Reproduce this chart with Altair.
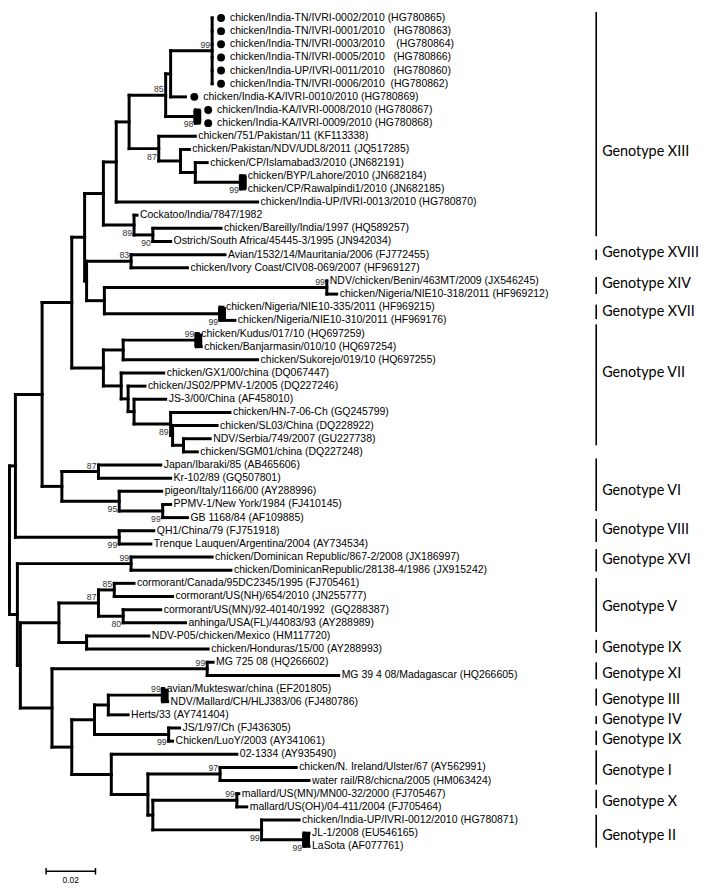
import altair as alt
import pandas as pd

# ---------------- data ----------------
leaf_names = [
    "chicken/India-TN/IVRI-0002/2010 (HG780865)",
    "chicken/India-TN/IVRI-0001/2010\u00a0\u00a0 (HG780863)",
    "chicken/India-TN/IVRI-0003/2010\u00a0\u00a0\u00a0 (HG780864)",
    "chicken/India-TN/IVRI-0005/2010\u00a0\u00a0 (HG780866)",
    "chicken/India-UP/IVRI-0011/2010\u00a0\u00a0 (HG780860)",
    "chicken/India-TN/IVRI-0006/2010\u00a0 (HG780862)",
    "chicken/India-KA/IVRI-0010/2010 (HG780869)",
    "chicken/India-KA/IVRI-0008/2010 (HG780867)",
    "chicken/India-KA/IVRI-0009/2010 (HG780868)",
    "chicken/751/Pakistan/11 (KF113338)",
    "chicken/Pakistan/NDV/UDL8/2011 (JQ517285)",
    "chicken/CP/Islamabad3/2010 (JN682191)",
    "chicken/BYP/Lahore/2010 (JN682184)",
    "chicken/CP/Rawalpindi1/2010 (JN682185)",
    "chicken/India-UP/IVRI-0013/2010 (HG780870)",
    "Cockatoo/India/7847/1982",
    "chicken/Bareilly/India/1997 (HQ589257)",
    "Ostrich/South Africa/45445-3/1995 (JN942034)",
    "Avian/1532/14/Mauritania/2006 (FJ772455)",
    "chicken/Ivory Coast/CIV08-069/2007 (HF969127)",
    "NDV/chicken/Benin/463MT/2009 (JX546245)",
    "chicken/Nigeria/NIE10-318/2011 (HF969212)",
    "chicken/Nigeria/NIE10-335/2011 (HF969215)",
    "chicken/Nigeria/NIE10-310/2011 (HF969176)",
    "chicken/Kudus/017/10 (HQ697259)",
    "chicken/Banjarmasin/010/10 (HQ697254)",
    "chicken/Sukorejo/019/10 (HQ697255)",
    "chicken/GX1/00/china (DQ067447)",
    "chicken/JS02/PPMV-1/2005 (DQ227246)",
    "JS-3/00/China (AF458010)",
    "chicken/HN-7-06-Ch (GQ245799)",
    "chicken/SL03/China (DQ228922)",
    "NDV/Serbia/749/2007 (GU227738)",
    "chicken/SGM01/china (DQ227248)",
    "Japan/Ibaraki/85 (AB465606)",
    "Kr-102/89 (GQ507801)",
    "pigeon/Italy/1166/00 (AY288996)",
    "PPMV-1/New York/1984 (FJ410145)",
    "GB 1168/84 (AF109885)",
    "QH1/China/79 (FJ751918)",
    "Trenque Lauquen/Argentina/2004 (AY734534)",
    "chicken/Dominican Republic/867-2/2008 (JX186997)",
    "chicken/DominicanRepublic/28138-4/1986 (JX915242)",
    "cormorant/Canada/95DC2345/1995 (FJ705461)",
    "cormorant/US(NH)/654/2010 (JN255777)",
    "cormorant/US(MN)/92-40140/1992\u00a0 (GQ288387)",
    "anhinga/USA(FL)/44083/93 (AY288989)",
    "NDV-P05/chicken/Mexico (HM117720)",
    "chicken/Honduras/15/00 (AY288993)",
    "MG 725 08 (HQ266602)",
    "MG 39 4 08/Madagascar (HQ266605)",
    "avian/Mukteswar/china (EF201805)",
    "NDV/Mallard/CH/HLJ383/06 (FJ480786)",
    "Herts/33 (AY741404)",
    "JS/1/97/Ch (FJ436305)",
    "Chicken/LuoY/2003 (AY341061)",
    "02-1334 (AY935490)",
    "chicken/N. Ireland/Ulster/67 (AY562991)",
    "water rail/R8/chicna/2005 (HM063424)",
    "mallard/US(MN)/MN00-32/2000 (FJ705467)",
    "mallard/US(OH)/04-411/2004 (FJ705464)",
    "chicken/India-UP/IVRI-0012/2010 (HG780871)",
    "JL-1/2008 (EU546165)",
    "LaSota (AF077761)",
]

# distance of each tip from the root (substitutions per site)
leaf_depth = [
    0.0820, 0.0820, 0.0820, 0.0820, 0.0820, 0.0820, 0.0712, 0.0768, 0.0768,
    0.0752, 0.0728, 0.0800, 0.0952, 0.0952, 0.1004, 0.0516, 0.0856, 0.0652,
    0.0872, 0.0720, 0.1284, 0.1324, 0.0864, 0.0912, 0.0764, 0.0776, 0.1004,
    0.0624, 0.0548, 0.0632, 0.0892, 0.0840, 0.0812, 0.0760, 0.0612, 0.0652,
    0.0616, 0.0652, 0.0720, 0.0584, 0.0572, 0.0820, 0.0896, 0.0504, 0.0660,
    0.0612, 0.0712, 0.0564, 0.0804, 0.0824, 0.1332, 0.0624, 0.0640, 0.0480,
    0.0688, 0.0660, 0.0920, 0.1160, 0.1212, 0.0928, 0.0960, 0.1172, 0.1212,
    0.1212,
]

dot_leaves = [1, 2, 3, 4, 5, 6, 7, 8, 9]

# internal nodes (children listed top to bottom), post-order
node_ids = ["A", "B", "D", "C", "I", "H", "G", "F", "E", "J", "N", "M", "K",
            "O83", "Q14", "Q17", "P", "S", "L", "T", "U", "Z3", "Z2", "Z", "Y",
            "X", "W", "V", "R", "J87", "G99", "N95", "VI", "AA", "VIII", "BB",
            "XVI", "C85", "C80", "V87", "IX1", "VIX", "XI", "III", "H3", "IX2",
            "N88", "I97", "X99", "II2", "II", "N147", "HH", "GG", "EE", "DD",
            "FF", "CC", "ROOT"]
node_children = [
    ["L1", "L2", "L3", "L4", "L5", "L6"], ["A", "L7"], ["L8", "L9"], ["B", "D"],
    ["L13", "L14"], ["L12", "I"], ["L11", "H"], ["L10", "G"], ["C", "F"],
    ["E", "L15"], ["L17", "L18"], ["L16", "N"], ["J", "M"],
    ["L19", "L20"], ["L21", "L22"], ["L23", "L24"], ["Q14", "Q17"], ["O83", "P"],
    ["K", "S"], ["L25", "L26"], ["T", "L27"], ["L33", "L34"], ["L32", "Z3"],
    ["L31", "Z2"], ["L30", "Z"], ["L29", "Y"], ["L28", "X"], ["U", "W"],
    ["L", "V"], ["L35", "L36"], ["L38", "L39"], ["L37", "G99"], ["J87", "N95"],
    ["R", "VI"], ["L40", "L41"], ["AA", "VIII"], ["L42", "L43"], ["L44", "L45"],
    ["L46", "L47"], ["C85", "C80"], ["L48", "L49"], ["V87", "IX1"], ["L50", "L51"],
    ["L52", "L53"], ["III", "L54"], ["L55", "L56"], ["H3", "IX2"], ["L58", "L59"],
    ["L60", "L61"], ["L63", "L64"], ["L62", "II2"], ["X99", "II"], ["I97", "N147"],
    ["L57", "HH"], ["N88", "GG"], ["XI", "EE"], ["VIX", "DD"], ["XVI", "FF"],
    ["BB", "CC"],
]
node_depth = [
    0.0820, 0.0652, 0.0752, 0.0632, 0.0936, 0.0752, 0.0692, 0.0604, 0.0484,
    0.0432, 0.0580, 0.0504, 0.0380, 0.0492, 0.1284, 0.0852, 0.0384, 0.0312,
    0.0304, 0.0756, 0.0460, 0.0704, 0.0660, 0.0652, 0.0504, 0.0480, 0.0452,
    0.0380, 0.0252, 0.0360, 0.0620, 0.0444, 0.0212, 0.0132, 0.0444, 0.0024,
    0.0492, 0.0424, 0.0460, 0.0360, 0.0312, 0.0200, 0.0800, 0.0620, 0.0400,
    0.0644, 0.0344, 0.0852, 0.0920, 0.1192, 0.1020, 0.0580, 0.0560, 0.0412,
    0.0252, 0.0172, 0.0044, 0.0032, 0.0000,
]
# bootstrap support (0 = not shown)
node_boot = [
    99, 0, 98, 85, 99, 0, 0, 87, 0, 0, 90, 89, 0, 83, 99, 99, 0, 0, 0, 99, 0,
    0, 0, 89, 0, 0, 0, 0, 0, 87, 99, 95, 0, 0, 99, 0, 99, 85, 80, 87, 0, 0, 99,
    99, 0, 99, 0, 97, 99, 99, 99, 0, 0, 0, 0, 0, 0, 0, 0,
]
boot_below = ["D", "I", "F", "N", "M", "Q17", "Z", "G99", "N95", "VIII", "C80",
              "IX2", "II", "II2"]
collapsed_nodes = ["D", "I", "Q17", "T", "III", "II2"]

genotype_names = ["Genotype XIII", "Genotype XVIII", "Genotype XIV", "Genotype XVII",
                  "Genotype VII", "Genotype VI", "Genotype VIII", "Genotype XVI",
                  "Genotype V", "Genotype IX", "Genotype XI", "Genotype III",
                  "Genotype IV", "Genotype IX", "Genotype I", "Genotype X",
                  "Genotype II"]
# bracket extent and label position, in leaf-row units
genotype_from = [0.55, 18.6, 20.7, 22.8, 24.3, 34.5, 39.1, 41.4, 43.6, 48.3,
                 50.0, 52.0, 54.1, 55.2, 56.7, 59.7, 61.6]
genotype_to = [17.6, 19.4, 22.0, 23.9, 33.5, 38.5, 40.85, 43.1, 47.7, 49.3,
               51.3, 53.3, 54.7, 56.3, 59.3, 61.1, 64.1]
genotype_label_row = [11.17, 18.88, 21.2, 23.36, 28.0, 36.98, 39.97, 42.2, 45.8,
                      48.94, 50.9, 52.9, 54.4, 55.9, 58.3, 60.6, 63.2]

scale_bar_start = 0.0148
scale_bar_length = 0.02

# ---------------- layout computation ----------------
depth = {}
row = {}
parent = {}
for i, (name, d) in enumerate(zip(leaf_names, leaf_depth)):
    depth[f"L{i+1}"] = d
    row[f"L{i+1}"] = i + 1
for nid, ch, d in zip(node_ids, node_children, node_depth):
    depth[nid] = d
    row[nid] = (row[ch[0]] + row[ch[-1]]) / 2
    for c in ch:
        parent[c] = nid

segs = []
for key in depth:
    if key in parent:
        segs.append({"x": depth[parent[key]], "x2": depth[key], "y": row[key], "y2": row[key]})
for nid, ch in zip(node_ids, node_children):
    segs.append({"x": depth[nid], "x2": depth[nid], "y": row[ch[0]], "y2": row[ch[-1]]})
seg_df = pd.DataFrame(segs)

block_w = 0.0024
blocks = []
for nid, ch in zip(node_ids, node_children):
    if nid in collapsed_nodes:
        blocks.append({"x": depth[nid] - 0.0008, "x2": depth[nid] + block_w,
                       "y": row[ch[0]], "y2": row[ch[-1]]})
block_df = pd.DataFrame(blocks)

leaf_df = pd.DataFrame({
    "name": leaf_names,
    "x": leaf_depth,
    "y": list(range(1, len(leaf_names) + 1)),
})
leaf_df["dot"] = leaf_df["y"].isin(dot_leaves)

boot_df = pd.DataFrame([
    {"x": depth[n], "y": row[n], "t": str(b), "below": n in boot_below}
    for n, b in zip(node_ids, node_boot) if b
])

geno_df = pd.DataFrame({"name": genotype_names, "y": genotype_from, "y2": genotype_to,
                        "ym": genotype_label_row})

bar_row = 65.9
scale_df = pd.DataFrame({"x": [scale_bar_start], "x2": [scale_bar_start + scale_bar_length],
                         "y": [bar_row], "xm": [scale_bar_start + scale_bar_length / 2],
                         "lab": [f"{scale_bar_length:.2f}"]})
tick_df = pd.DataFrame({"x": [scale_bar_start, scale_bar_start + scale_bar_length],
                        "y": [bar_row - 0.25] * 2, "y2": [bar_row + 0.25] * 2})

# ---------------- chart ----------------
W, H = 701, 883
xs = alt.Scale(domain=[-0.0006, (W - 1.5) / 2500], nice=False, zero=False)
ys = alt.Scale(domain=[1 - 5 / 13.3, 1 + (H - 5) / 13.3], nice=False, zero=False, reverse=True)
X = lambda f: alt.X(f, type="quantitative", scale=xs, axis=None)
Y = lambda f: alt.Y(f, type="quantitative", scale=ys, axis=None)

font = "Liberation Sans"

branches = alt.Chart(seg_df).mark_rule(strokeWidth=3, strokeCap="square", color="black").encode(
    x=X("x"), x2="x2", y=Y("y"), y2="y2")
blocks_l = alt.Chart(block_df).mark_rect(color="black").encode(
    x=X("x"), x2="x2", y=Y("y"), y2="y2")
dots = alt.Chart(leaf_df[leaf_df["dot"]]).mark_circle(color="black", opacity=1, size=64, xOffset=9).encode(
    x=X("x"), y=Y("y"))
labels_plain = alt.Chart(leaf_df[~leaf_df["dot"]]).mark_text(
    align="left", baseline="middle", dx=3, font=font, fontSize=10.6, color="black").encode(
    x=X("x"), y=Y("y"), text="name")
labels_dot = alt.Chart(leaf_df[leaf_df["dot"]]).mark_text(
    align="left", baseline="middle", dx=18, font=font, fontSize=10.6, color="black").encode(
    x=X("x"), y=Y("y"), text="name")
boot_up = alt.Chart(boot_df[~boot_df["below"]]).mark_text(
    align="right", baseline="middle", dx=-2, dy=-6, font=font, fontSize=8.8, color="#333").encode(
    x=X("x"), y=Y("y"), text="t")
boot_dn = alt.Chart(boot_df[boot_df["below"]]).mark_text(
    align="right", baseline="middle", dx=-2, dy=8, font=font, fontSize=8.8, color="#333").encode(
    x=X("x"), y=Y("y"), text="t")
geno_rules = alt.Chart(geno_df).mark_rule(strokeWidth=1.6, color="black").encode(
    x=alt.value(595), y=Y("y"), y2="y2")
geno_text = alt.Chart(geno_df).mark_text(
    align="left", baseline="middle", font="Lato", fontSize=14.5, color="black").encode(
    x=alt.value(601), y=Y("ym"), text="name")
scale_rule = alt.Chart(scale_df).mark_rule(strokeWidth=1.5, color="black").encode(
    x=X("x"), x2="x2", y=Y("y"))
scale_ticks = alt.Chart(tick_df).mark_rule(strokeWidth=1.5, color="black").encode(
    x=X("x"), y=Y("y"), y2="y2")
scale_lab = alt.Chart(scale_df).mark_text(
    align="center", baseline="top", dy=5, font=font, fontSize=8.5, color="black").encode(
    x=X("xm"), y=Y("y"), text="lab")

chart = alt.layer(
    branches, blocks_l, dots, labels_plain, labels_dot, boot_up, boot_dn,
    geno_rules, geno_text, scale_rule, scale_ticks, scale_lab
).properties(
    width=W, height=H, padding=0,
    autosize=alt.AutoSizeParams(type="none"),
).configure_view(stroke=None)

chart.save("out.html", embed_options={"renderer": "svg", "actions": False})
